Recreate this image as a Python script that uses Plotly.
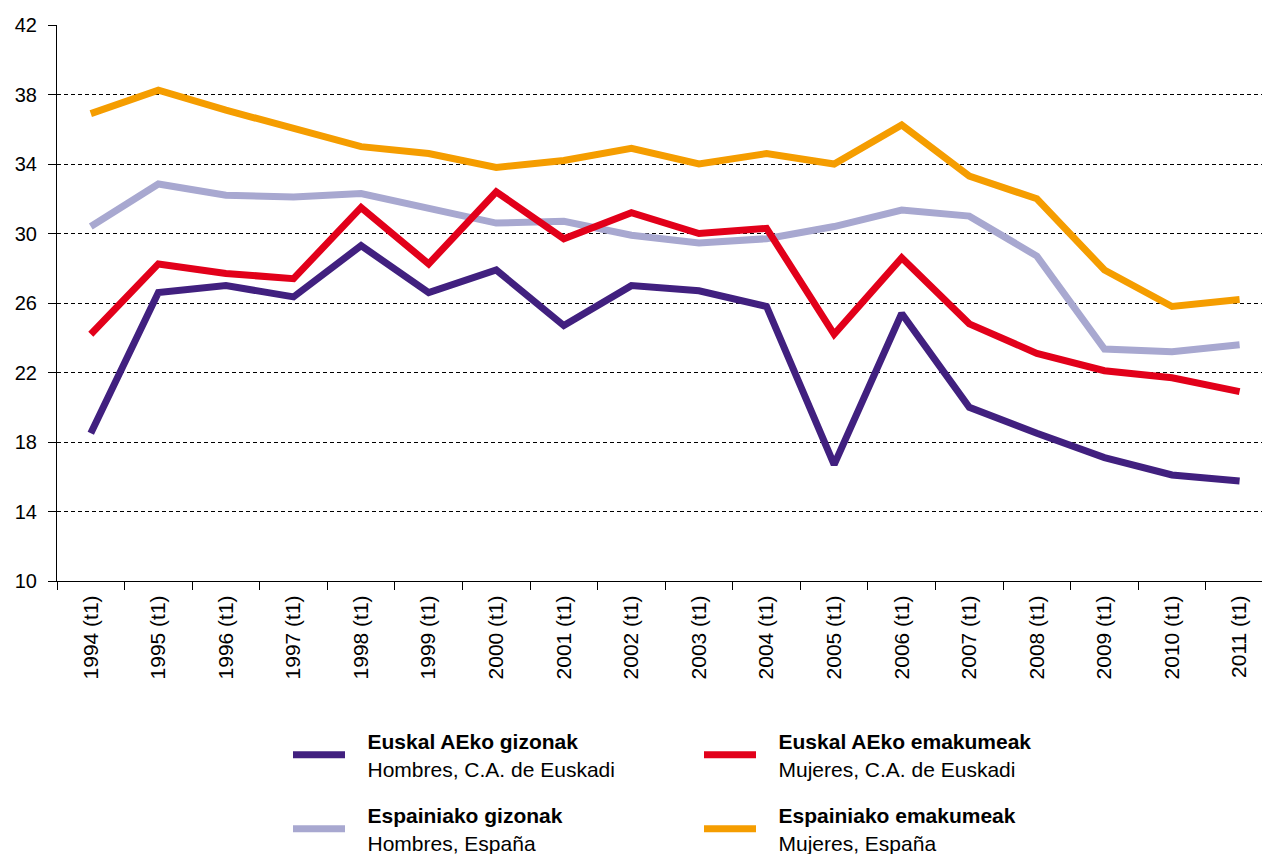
import plotly.graph_objects as go

years = ["1994 (t1)", "1995 (t1)", "1996 (t1)", "1997 (t1)", "1998 (t1)", "1999 (t1)",
         "2000 (t1)", "2001 (t1)", "2002 (t1)", "2003 (t1)", "2004 (t1)", "2005 (t1)",
         "2006 (t1)", "2007 (t1)", "2008 (t1)", "2009 (t1)", "2010 (t1)", "2011 (t1)"]

euskadi_men = [18.5, 26.6, 27.0, 26.35, 29.3, 26.6, 27.9, 24.7, 27.0, 26.7, 25.8, 16.7,
               25.4, 20.0, 18.5, 17.1, 16.1, 15.75]
euskadi_women = [24.2, 28.25, 27.7, 27.4, 31.5, 28.25, 32.4, 29.7, 31.2, 30.0, 30.3, 24.2,
                 28.6, 24.8, 23.1, 22.1, 21.7, 20.9]
spain_men = [30.4, 32.85, 32.2, 32.1, 32.3, 31.5, 30.6, 30.7, 29.9, 29.45, 29.7, 30.4,
             31.35, 31.0, 28.7, 23.35, 23.2, 23.6]
spain_women = [36.9, 38.25, 37.1, 36.1, 35.0, 34.6, 33.8, 34.2, 34.9, 34.0, 34.6, 34.0,
               36.25, 33.3, 32.0, 27.9, 25.8, 26.2]

names_eu = ["Euskal AEko gizonak", "Euskal AEko emakumeak", "Espainiako gizonak", "Espainiako emakumeak"]
names_es = ["Hombres, C.A. de Euskadi", "Mujeres, C.A. de Euskadi", "Hombres, España", "Mujeres, España"]

PAD = "\u00a0\u00a0\u00a0"
colors = ["#41207f", "#e2001a", "#a8a8d0", "#f59d00"]
values = [euskadi_men, euskadi_women, spain_men, spain_women]
legends = ["legend", "legend", "legend2", "legend2"]

fig = go.Figure()
# draw order: lavender & orange below, red, purple on top
for idx in [2, 3, 1, 0]:
    name = f"{PAD}<b>{names_eu[idx]}</b><br>{PAD}{names_es[idx]}"
    fig.add_trace(go.Scatter(x=years, y=values[idx], mode="lines", name=name,
                             line=dict(color=colors[idx], width=7), legend=legends[idx],
                             legendrank=idx))

FONT = "Liberation Sans, Arial, Helvetica, sans-serif"
W, H = 1262, 846

fig.update_layout(
    width=W, height=H,
    margin=dict(l=49, r=0, t=17, b=273, autoexpand=False),
    plot_bgcolor="white", paper_bgcolor="white",
    font=dict(family=FONT, size=20, color="black"),
    xaxis=dict(
        type="category", range=[-0.5, 17.45], automargin=False,
        showline=True, linecolor="black", linewidth=1,
        ticks="outside", ticklen=8, tickcolor="black", tickson="boundaries",
        tickangle=-90, tickfont=dict(size=21, family=FONT), ticklabelstandoff=5,
        showgrid=False, zeroline=False,
    ),
    yaxis=dict(
        range=[10, 42], tickmode="array", tickvals=list(range(10, 43, 4)),
        automargin=False,
        showline=True, linecolor="black", linewidth=1,
        ticks="outside", ticklen=8, tickcolor="black",
        tickfont=dict(size=20, family=FONT), ticklabelstandoff=7,
        showgrid=True, gridcolor="black", gridwidth=1, griddash="4px,3px",
        zeroline=False,
    ),
    legend=dict(
        orientation="h", xref="container", yref="container",
        x=280/W, y=1 - 713/H, xanchor="left", yanchor="top",
        entrywidth=344, entrywidthmode="pixels", itemwidth=52,
        font=dict(size=21, family=FONT), traceorder="normal",
        bgcolor="rgba(0,0,0,0)",
    ),
    legend2=dict(
        orientation="h", xref="container", yref="container",
        x=280/W, y=1 - 787/H, xanchor="left", yanchor="top",
        entrywidth=344, entrywidthmode="pixels", itemwidth=52,
        font=dict(size=21, family=FONT), traceorder="normal",
        bgcolor="rgba(0,0,0,0)",
    ),
)

fig.write_html("out.html")
